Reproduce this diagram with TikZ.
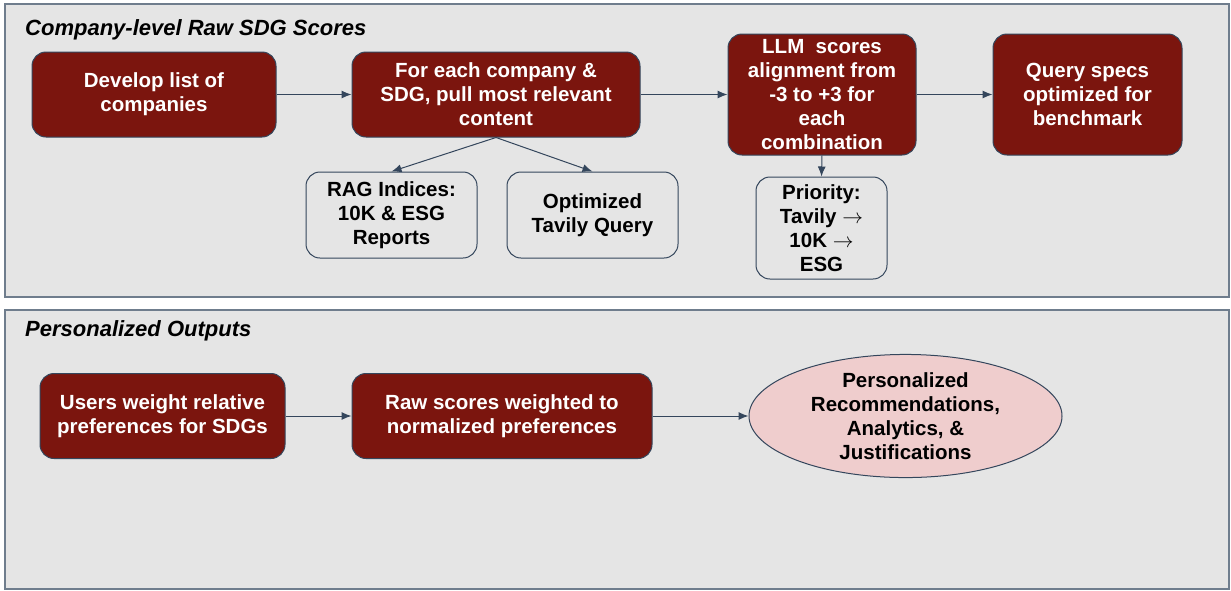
\documentclass[tikz,border=0pt]{standalone}
\usepackage{fontspec}
\setmainfont{Liberation Sans}
\usetikzlibrary{arrows.meta,shapes.geometric}
\definecolor{boxred}{HTML}{7B150E}
\definecolor{panelgrey}{HTML}{E5E5E5}
\definecolor{edgeblue}{HTML}{34465C}
\definecolor{paneledge}{HTML}{6F7D8D}
\definecolor{ovalpink}{HTML}{EFCDCD}
\tikzset{
	boxfont/.style={font=\fontsize{20.5}{24}\selectfont\bfseries},
	redbox/.style={boxfont, draw=edgeblue, fill=boxred, text=white, rounded corners=14pt, line width=1pt, align=center, inner sep=0pt},
	greybox/.style={boxfont, draw=edgeblue, fill=panelgrey, text=black, rounded corners=14pt, line width=1pt, align=center, inner sep=0pt},
	panel/.style={draw=paneledge, fill=panelgrey, line width=1.3pt},
	paneltitle/.style={anchor=west, inner sep=0pt, font=\fontsize{22}{26}\selectfont\bfseries\itshape},
	link/.style={draw=edgeblue, line width=1pt, -{Latex[length=10pt,width=8pt]}}
}

\begin{document}
\begin{tikzpicture}[x=1pt, y=-1pt]
			%%%%% START %%%%%
			\useasboundingbox (0, 0) rectangle (1231, 590);
			
			\draw[panel] (5, 4) rectangle (1229, 297);
			\draw[panel] (5, 310) rectangle (1229, 589);
			
			\node[paneltitle] (scorestitle) at (25, 30) {Company-level Raw SDG Scores};
			\node[paneltitle] (outputstitle) at (25, 331) {Personalized Outputs};
			
			\node[redbox, minimum width=244pt, minimum height=85pt] (develop) at (154, 94.5) {Develop list of\\companies};
			\node[redbox, minimum width=288pt, minimum height=85pt] (pull) at (496, 94.5) {For each company \&\\SDG, pull most relevant\\content};
			\node[redbox, minimum width=188pt, minimum height=121pt] (llm) at (822, 94.5) {LLM~ scores\\alignment from\\-3 to +3 for\\each\\combination};
			\node[redbox, minimum width=189pt, minimum height=121pt] (query) at (1087.5, 94.5) {Query specs\\optimized for\\benchmark};
			
			\node[greybox, minimum width=171pt, minimum height=86pt] (rag) at (391.5, 215) {RAG Indices:\\10K \& ESG\\Reports};
			\node[greybox, minimum width=171pt, minimum height=86pt] (tavily) at (592.5, 215) {Optimized\\Tavily Query};
			\node[greybox, minimum width=131pt, minimum height=102pt] (priority) at (821.5, 228) {Priority:\\Tavily $\rightarrow$\\10K $\rightarrow$\\ESG};
			
			\draw[link] (develop.east) -- (pull.west);
			\draw[link] (pull.east) -- (llm.west);
			\draw[link] (llm.east) -- (query.west);
			\draw[link] (pull.south) -- (rag.north);
			\draw[link] (pull.south) -- (tavily.north);
			\draw[link] (llm.south) -- (priority.north);
			
			\node[redbox, minimum width=245pt, minimum height=85pt] (users) at (162.5, 416) {Users weight relative\\preferences for SDGs};
			\node[redbox, minimum width=300pt, minimum height=85pt] (weighted) at (502, 416) {Raw scores weighted to\\normalized preferences};
			\node[ellipse, boxfont, draw=edgeblue, fill=ovalpink, line width=1pt, align=center, inner sep=0pt, minimum width=313pt, minimum height=121pt] (recs) at (905.5, 416) {Personalized\\Recommendations,\\Analytics, \&\\Justifications};
			
			\draw[link] (users.east) -- (weighted.west);
			\draw[link] (weighted.east) -- (recs.west);
			
			%%%%% END %%%%%
\end{tikzpicture}
\end{document}
